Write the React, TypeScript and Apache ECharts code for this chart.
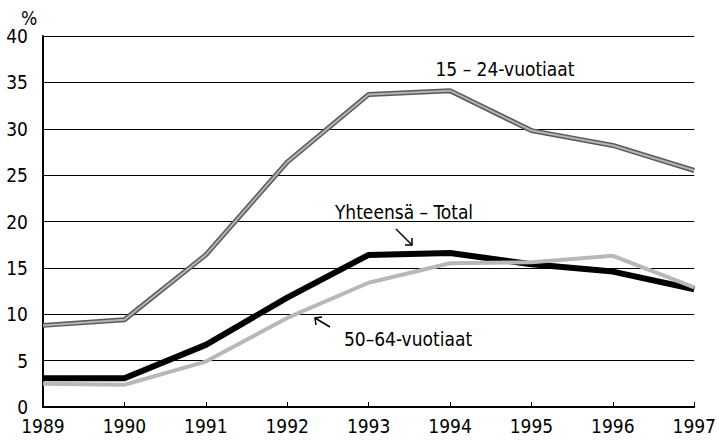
import React, { useEffect, useRef } from "react";
import * as echarts from "echarts";

const years = ["1989", "1990", "1991", "1992", "1993", "1994", "1995", "1996", "1997"];
const youth = [8.8, 9.4, 16.4, 26.4, 33.7, 34.1, 29.8, 28.2, 25.5];
const total = [3.1, 3.1, 6.7, 11.8, 16.4, 16.6, 15.4, 14.6, 12.7];
const older = [2.5, 2.4, 4.9, 9.6, 13.4, 15.5, 15.6, 16.3, 12.9];

const FONT = "'DejaVu Sans Condensed', 'Liberation Sans Narrow', sans-serif";

export default function App() {
  const ref = useRef<HTMLDivElement>(null);
  useEffect(() => {
    if (!ref.current) return;
    const chart = echarts.init(ref.current, undefined, { renderer: "svg" });
    const arrowStyle = { stroke: "#000", lineWidth: 1.5, fill: "none" };
    chart.setOption({
      animation: false,
      backgroundColor: "#fff",
      grid: { left: 43, right: 22, top: 36, bottom: 35, containLabel: false },
      xAxis: {
        type: "category",
        data: years,
        boundaryGap: false,
        axisLine: { show: true, lineStyle: { color: "#000", width: 2 } },
        axisTick: { show: true, inside: true, length: 5, lineStyle: { color: "#000", width: 1 } },
        axisLabel: { color: "#000", fontFamily: FONT, fontSize: 19, margin: 9 },
        splitLine: { show: false },
      },
      yAxis: {
        type: "value",
        min: 0,
        max: 40,
        interval: 5,
        axisLine: { show: true, lineStyle: { color: "#000", width: 2 } },
        axisTick: { show: false },
        axisLabel: { color: "#000", fontFamily: FONT, fontSize: 19, margin: 15 },
        splitLine: { show: true, lineStyle: { color: "#000", width: 1 } },
      },
      series: [
        {
          type: "line",
          data: youth,
          symbol: "none",
          lineStyle: { color: "#5a5a5a", width: 5 },
          z: 2,
        },
        {
          type: "line",
          data: youth,
          symbol: "none",
          lineStyle: { color: "#b4b4b4", width: 2 },
          z: 3,
        },
        {
          type: "line",
          data: total,
          symbol: "none",
          lineStyle: { color: "#000", width: 6 },
          z: 4,
        },
        {
          type: "line",
          data: older,
          symbol: "none",
          lineStyle: { color: "#b8b8b8", width: 4 },
          z: 5,
        },
      ],
      graphic: [
        {
          type: "text",
          x: 29,
          y: 18,
          style: { text: "%", font: `19px ${FONT}`, fill: "#000", align: "center", verticalAlign: "middle" },
        },
        {
          type: "text",
          x: 505,
          y: 69,
          style: { text: "15 – 24-vuotiaat", font: `19px ${FONT}`, fill: "#000", align: "center", verticalAlign: "middle", backgroundColor: "#fff" },
        },
        {
          type: "text",
          x: 404,
          y: 212,
          style: { text: "Yhteensä – Total", font: `19px ${FONT}`, fill: "#000", align: "center", verticalAlign: "middle", backgroundColor: "#fff" },
        },
        {
          type: "text",
          x: 408,
          y: 339,
          style: { text: "50–64-vuotiaat", font: `19px ${FONT}`, fill: "#000", align: "center", verticalAlign: "middle", backgroundColor: "#fff" },
        },
        { type: "line", shape: { x1: 396, y1: 229, x2: 412, y2: 245 }, style: arrowStyle, z: 10 },
        { type: "polyline", shape: { points: [[412, 238], [412, 245], [405, 245]] }, style: arrowStyle, z: 10 },
        { type: "line", shape: { x1: 330, y1: 327, x2: 315, y2: 318 }, style: arrowStyle, z: 10 },
        { type: "polyline", shape: { points: [[316, 325], [315, 318], [322, 317]] }, style: arrowStyle, z: 10 },
      ],
    });
    return () => chart.dispose();
  }, []);
  return <div ref={ref} style={{ position: "absolute", left: 0, top: 0, width: 719, height: 442 }} />;
}
